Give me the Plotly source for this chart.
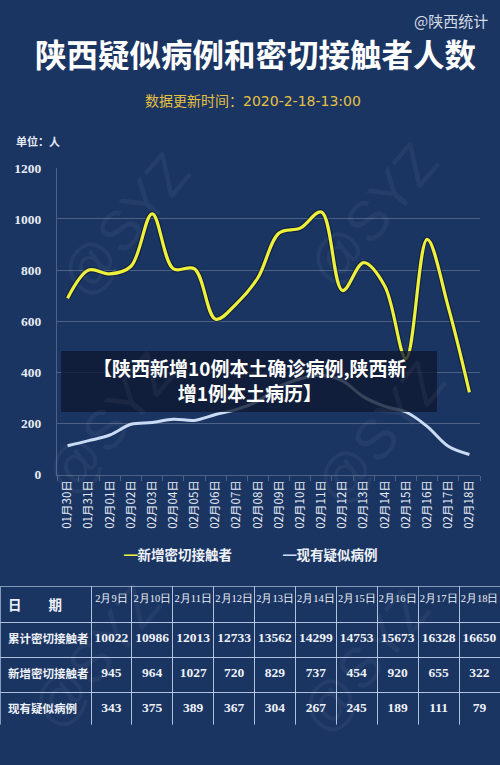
import plotly.graph_objects as go

BG = "#1b3563"
GRID = "rgba(255,255,255,0.22)"
YELLOW = "#eef03c"
BLUE = "#c9dcf4"
CJK = "Noto Sans CJK SC"
SERIF = "Liberation Serif"

# chart data (01/30 - 02/18)
dates = ["01月30日", "01月31日", "02月01日", "02月02日", "02月03日", "02月04日", "02月05日",
         "02月06日", "02月07日", "02月08日", "02月09日", "02月10日", "02月11日", "02月12日",
         "02月13日", "02月14日", "02月15日", "02月16日", "02月17日", "02月18日"]
new_contacts = [690, 800, 785, 815, 1020, 805, 805, 608, 670, 770,
                945, 964, 1027, 720, 829, 737, 454, 920, 655, 322]
suspected = [113, 133, 155, 197, 204, 217, 212, 235, 255, 288,
             343, 375, 389, 367, 304, 267, 245, 189, 111, 79]
y_ticks = [0, 200, 400, 600, 800, 1000, 1200]

# table data (2/9 - 2/18)
table_dates = ["2月9日", "2月10日", "2月11日", "2月12日", "2月13日",
               "2月14日", "2月15日", "2月16日", "2月17日", "2月18日"]
cum_contacts = [10022, 10986, 12013, 12733, 13562, 14299, 14753, 15673, 16328, 16650]
row_labels = ["累计密切接触者", "新增密切接触者", "现有疑似病例"]
tbl_new = new_contacts[10:]
tbl_susp = suspected[10:]

W, H = 500, 765


def px_x(v):
    return v / W


def px_y(v):
    return 1 - v / H


def note(x, y, text, size, color, family=CJK, xanchor="center", **kw):
    fig.add_annotation(
        x=px_x(x), y=px_y(y), xref="paper", yref="paper", showarrow=False,
        xanchor=xanchor, yanchor="middle", text=text,
        font=dict(size=size, color=color, family=family), **kw,
    )


fig = go.Figure()

fig.add_trace(go.Scatter(
    x=dates, y=suspected, mode="lines", name="现有疑似病例",
    line=dict(color=BLUE, width=3, shape="spline", smoothing=1.0),
))
# dark edge under the yellow line
fig.add_trace(go.Scatter(
    x=dates, y=new_contacts, mode="lines", hoverinfo="skip",
    line=dict(color="rgba(10,18,36,0.55)", width=5.5, shape="spline", smoothing=1.0),
))
fig.add_trace(go.Scatter(
    x=dates, y=new_contacts, mode="lines", name="新增密切接触者",
    line=dict(color=YELLOW, width=3.2, shape="spline", smoothing=1.0),
))

header_vals = ["<b>日　　期</b>"] + table_dates
cell_vals = [["<b>%s</b>" % r for r in row_labels]]
for c, n, s in zip(cum_contacts, tbl_new, tbl_susp):
    cell_vals.append(["<b>%d</b>" % c, "<b>%d</b>" % n, "<b>%d</b>" % s])

fig.add_trace(go.Table(
    domain=dict(x=[0, 1], y=[px_y(732), px_y(591)]),
    columnwidth=[91] + [40.9] * 10,
    header=dict(
        values=header_vals,
        height=35,
        align=["left"] + ["center"] * 10,
        fill_color="rgba(0,0,0,0)",
        line=dict(color="rgba(205,220,245,0.6)", width=1),
        font=dict(family=[CJK] + [SERIF] * 10, size=[13.5] + [10.5] * 10, color="#eef2f8"),
    ),
    cells=dict(
        values=cell_vals,
        height=35,
        align=["left"] + ["center"] * 10,
        fill_color="rgba(0,0,0,0)",
        line=dict(color="rgba(205,220,245,0.6)", width=1),
        font=dict(family=[CJK] + [SERIF] * 10, size=[11.5] + [13.5] * 10, color="#eef2f8"),
    ),
))

fig.update_layout(
    width=W, height=H,
    margin=dict(l=0, r=0, t=0, b=0),
    paper_bgcolor=BG, plot_bgcolor="rgba(0,0,0,0)",
    showlegend=False,
    font=dict(family=CJK, color="#e6ebf3"),
    xaxis=dict(
        domain=[px_x(57), px_x(480)],
        type="category", range=[-0.5, 19.5],
        tickangle=-90, tickfont=dict(size=11.5, color="#e4eaf3", family=CJK),
        showgrid=False, showline=True, linecolor=GRID, linewidth=1,
        ticks="outside", tickson="boundaries", ticklen=5, tickcolor=GRID,
    ),
    yaxis=dict(
        domain=[px_y(477), px_y(164)],
        range=[0, 1200], tickvals=y_ticks,
        tickfont=dict(size=13.5, color="#e6ebf3", family=SERIF, weight="bold"),
        gridcolor=GRID, gridwidth=1, zeroline=False,
        showline=True, linecolor=GRID, linewidth=1,
        ticks="", ticklabelstandoff=12,
    ),
)

# watermarks
for wx, wy in [(125, 222), (373, 212), (110, 425), (380, 435), (95, 662), (365, 668)]:
    note(wx, wy, "@SYZ", 56, "rgba(255,255,255,0.045)", family="Liberation Sans", textangle=-50)

# header texts
note(490, 14, "@陕西统计", 15, "#d4dbe4", xanchor="right")
note(255, 47, "<b>陕西疑似病例和密切接触者人数</b>", 31.5, "#ffffff")
note(253, 96, "数据更新时间：2020-2-18-13:00", 14, "#e6c040", family="DejaVu Sans, " + CJK)
note(14, 137, "<b>单位：人</b>", 11, "#e6ebf3", xanchor="left")

# legend
note(122, 558, "<span style='color:%s'>━</span><b>新增密切接触者</b>" % YELLOW, 13.5, "#eef2f8",
     xanchor="left")
note(281, 558, "<span style='color:%s'>━</span><b>现有疑似病例</b>" % BLUE, 13.5, "#eef2f8",
     xanchor="left")

# banner overlay
fig.add_shape(
    type="rect", xref="paper", yref="paper",
    x0=px_x(61), x1=px_x(437), y0=px_y(413), y1=px_y(351),
    fillcolor="rgba(14,24,48,0.78)", line=dict(width=0), layer="above",
)
note(250, 380, "<b>【陕西新增10例本土确诊病例,陕西新<br>增1例本土病历】</b>", 19, "#ffffff")

fig.write_html(
    "out.html",
    config={"displayModeBar": False},
    post_script="document.body.style.margin='0';document.body.style.overflow='hidden';",
)
